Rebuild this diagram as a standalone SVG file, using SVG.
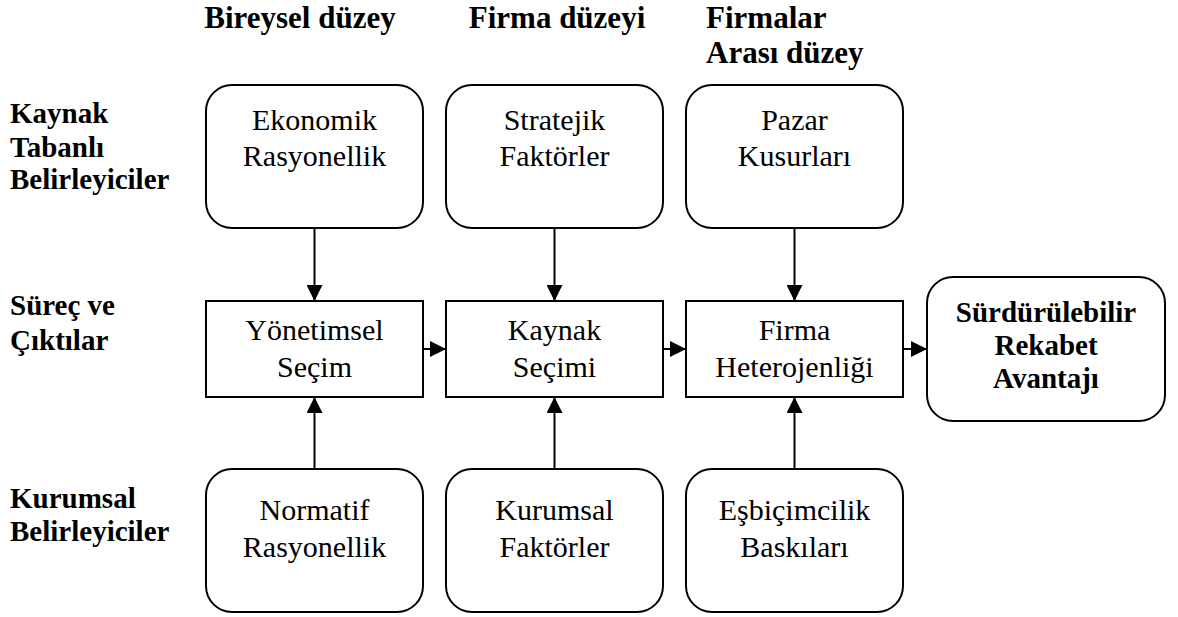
<svg xmlns="http://www.w3.org/2000/svg" width="1178" height="617" viewBox="0 0 1178 617">
<style>
.box{fill:#fff;stroke:#000;stroke-width:2}
text{fill:#000}
.t{font-size:30px;text-anchor:middle}
.h{font-size:29px;font-weight:bold}
.hb{font-size:31px}
.hc{text-anchor:middle}
.c{stroke:#000;stroke-width:2;fill:none;marker-end:url(#ah)}
</style>
<defs>
<marker id="ah" markerUnits="userSpaceOnUse" markerWidth="16" markerHeight="16" refX="16" refY="8" orient="auto">
<path d="M0,0 L16,8 L0,16 Z" fill="#000"/>
</marker>
</defs>
<g id="headers" font-family="Liberation Serif, Times New Roman, DejaVu Serif, serif">
<text class="h hb hc" x="300" y="28">Bireysel düzey</text>
<text class="h hb hc" x="557" y="28">Firma düzeyi</text>
<text class="h hb" x="706" y="28">Firmalar</text>
<text class="h hb" x="706" y="63">Arası düzey</text>
<text class="h" x="10" y="123">Kaynak</text>
<text class="h" x="10" y="157">Tabanlı</text>
<text class="h" x="10" y="189">Belirleyiciler</text>
<text class="h" x="10" y="315">Süreç ve</text>
<text class="h" x="10" y="350">Çıktılar</text>
<text class="h" x="10" y="508">Kurumsal</text>
<text class="h" x="10" y="541">Belirleyiciler</text>
</g>
<g id="connectors">
<line class="c" x1="314.5" y1="228" x2="314.5" y2="301"/>
<line class="c" x1="554.5" y1="228" x2="554.5" y2="301"/>
<line class="c" x1="794.5" y1="228" x2="794.5" y2="301"/>
<line class="c" x1="314.5" y1="469" x2="314.5" y2="397"/>
<line class="c" x1="554.5" y1="469" x2="554.5" y2="397"/>
<line class="c" x1="794.5" y1="469" x2="794.5" y2="397"/>
<line class="c" x1="423" y1="349" x2="446" y2="349"/>
<line class="c" x1="663" y1="349" x2="686" y2="349"/>
<line class="c" x1="903" y1="349" x2="927" y2="349"/>
</g>
<g font-family="Liberation Serif, Times New Roman, DejaVu Serif, serif">
<g id="ekonomik">
<rect class="box" x="206" y="85" width="217" height="143" rx="26"/>
<text class="t" x="314.5" y="130">Ekonomik</text>
<text class="t" x="314.5" y="166">Rasyonellik</text>
</g>
<g id="stratejik">
<rect class="box" x="446" y="85" width="217" height="143" rx="26"/>
<text class="t" x="554.5" y="130">Stratejik</text>
<text class="t" x="554.5" y="166">Faktörler</text>
</g>
<g id="pazar">
<rect class="box" x="686" y="85" width="217" height="143" rx="26"/>
<text class="t" x="794.5" y="130">Pazar</text>
<text class="t" x="794.5" y="166">Kusurları</text>
</g>
<g id="yonetimsel">
<rect class="box" x="206" y="301" width="217" height="96"/>
<text class="t" x="314.5" y="340">Yönetimsel</text>
<text class="t" x="314.5" y="377">Seçim</text>
</g>
<g id="kaynak">
<rect class="box" x="446" y="301" width="217" height="96"/>
<text class="t" x="554.5" y="340">Kaynak</text>
<text class="t" x="554.5" y="377">Seçimi</text>
</g>
<g id="firma">
<rect class="box" x="686" y="301" width="217" height="96"/>
<text class="t" x="794.5" y="340">Firma</text>
<text class="t" x="794.5" y="377">Heterojenliği</text>
</g>
<g id="surdurulebilir">
<rect class="box" x="927" y="277" width="238" height="144" rx="26"/>
<text class="h hc" x="1046" y="322">Sürdürülebilir</text>
<text class="h hc" x="1046" y="355">Rekabet</text>
<text class="h hc" x="1046" y="388">Avantajı</text>
</g>
<g id="normatif">
<rect class="box" x="206" y="469" width="217" height="143" rx="26"/>
<text class="t" x="314.5" y="520">Normatif</text>
<text class="t" x="314.5" y="557">Rasyonellik</text>
</g>
<g id="kurumsal">
<rect class="box" x="446" y="469" width="217" height="143" rx="26"/>
<text class="t" x="554.5" y="520">Kurumsal</text>
<text class="t" x="554.5" y="557">Faktörler</text>
</g>
<g id="esbicimcilik">
<rect class="box" x="686" y="469" width="217" height="143" rx="26"/>
<text class="t" x="794.5" y="520">Eşbiçimcilik</text>
<text class="t" x="794.5" y="557">Baskıları</text>
</g>
</g>
</svg>
